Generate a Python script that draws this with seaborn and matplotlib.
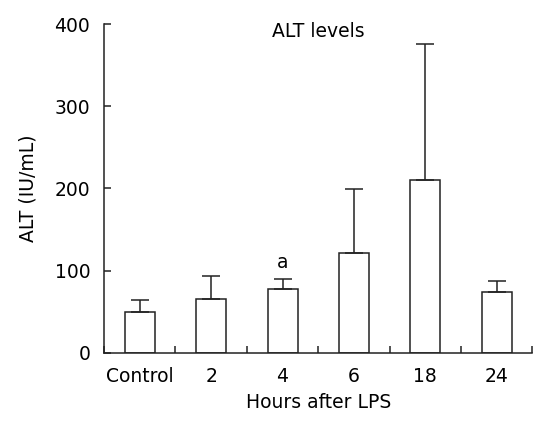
import matplotlib
matplotlib.use("Agg")
import matplotlib.pyplot as plt
import seaborn as sns
import pandas as pd
import numpy as np

groups = ["Control", "2", "4", "6", "18", "24"]
alt_mean = [49, 65, 77, 121, 210, 74]
alt_sd = [15, 28, 13, 78, 166, 13]
marks = {"4": "a"}

sns.set_theme(style="ticks")
plt.rcParams['font.family'] = ['DejaVu Sans']
plt.rcParams['text.color'] = "black"
plt.rcParams['axes.labelcolor'] = "black"
plt.rcParams['xtick.color'] = "black"
plt.rcParams['ytick.color'] = "black"

fs = 13.5
ds = pd.DataFrame({"group": groups, "alt": alt_mean})

fig = plt.figure(figsize=(5.51, 4.32), dpi=100)
ax = fig.add_axes([0.189, 0.1836, 0.777, 0.7608])

sns.barplot(x="group", y="alt", data=ds, color="white", edgecolor="#222222",
            linewidth=1.1, width=0.42, ax=ax, saturation=1)
xs = np.arange(len(groups))
ax.errorbar(xs, alt_mean, yerr=[np.zeros(len(groups)), alt_sd], fmt="none",
            ecolor="#222222", elinewidth=1.1, capsize=6.5, capthick=1.1)

for g, t in marks.items():
    i = groups.index(g)
    ax.text(i, alt_mean[i] + alt_sd[i] + 8, t, ha="center", va="bottom", fontsize=fs)

ax.set_xlim(-0.5, len(groups) - 0.5)
ax.set_ylim(0, 400)
ax.set_yticks([0, 100, 200, 300, 400])
ax.set_xticks(xs)
ax.set_xticks(np.arange(len(groups) + 1) - 0.5, minor=True)
ax.tick_params(axis="x", which="major", length=0, pad=10, labelsize=fs)
ax.tick_params(axis="x", which="minor", direction="in", length=5, width=1.1, color="#222222")
ax.tick_params(axis="y", direction="in", length=5, width=1.1, color="#222222", labelsize=fs, pad=10)
for s in ["left", "bottom"]:
    ax.spines[s].set_linewidth(1.1)
    ax.spines[s].set_color("#222222")
sns.despine(ax=ax)

ax.set_xlabel("Hours after LPS", fontsize=fs, labelpad=5)
ax.set_ylabel("ALT (IU/mL)", fontsize=fs, labelpad=12)
ax.text(0.5, 1.005, "ALT levels", transform=ax.transAxes, ha="center", va="top", fontsize=fs)

fig.savefig("out.png", dpi=100)
